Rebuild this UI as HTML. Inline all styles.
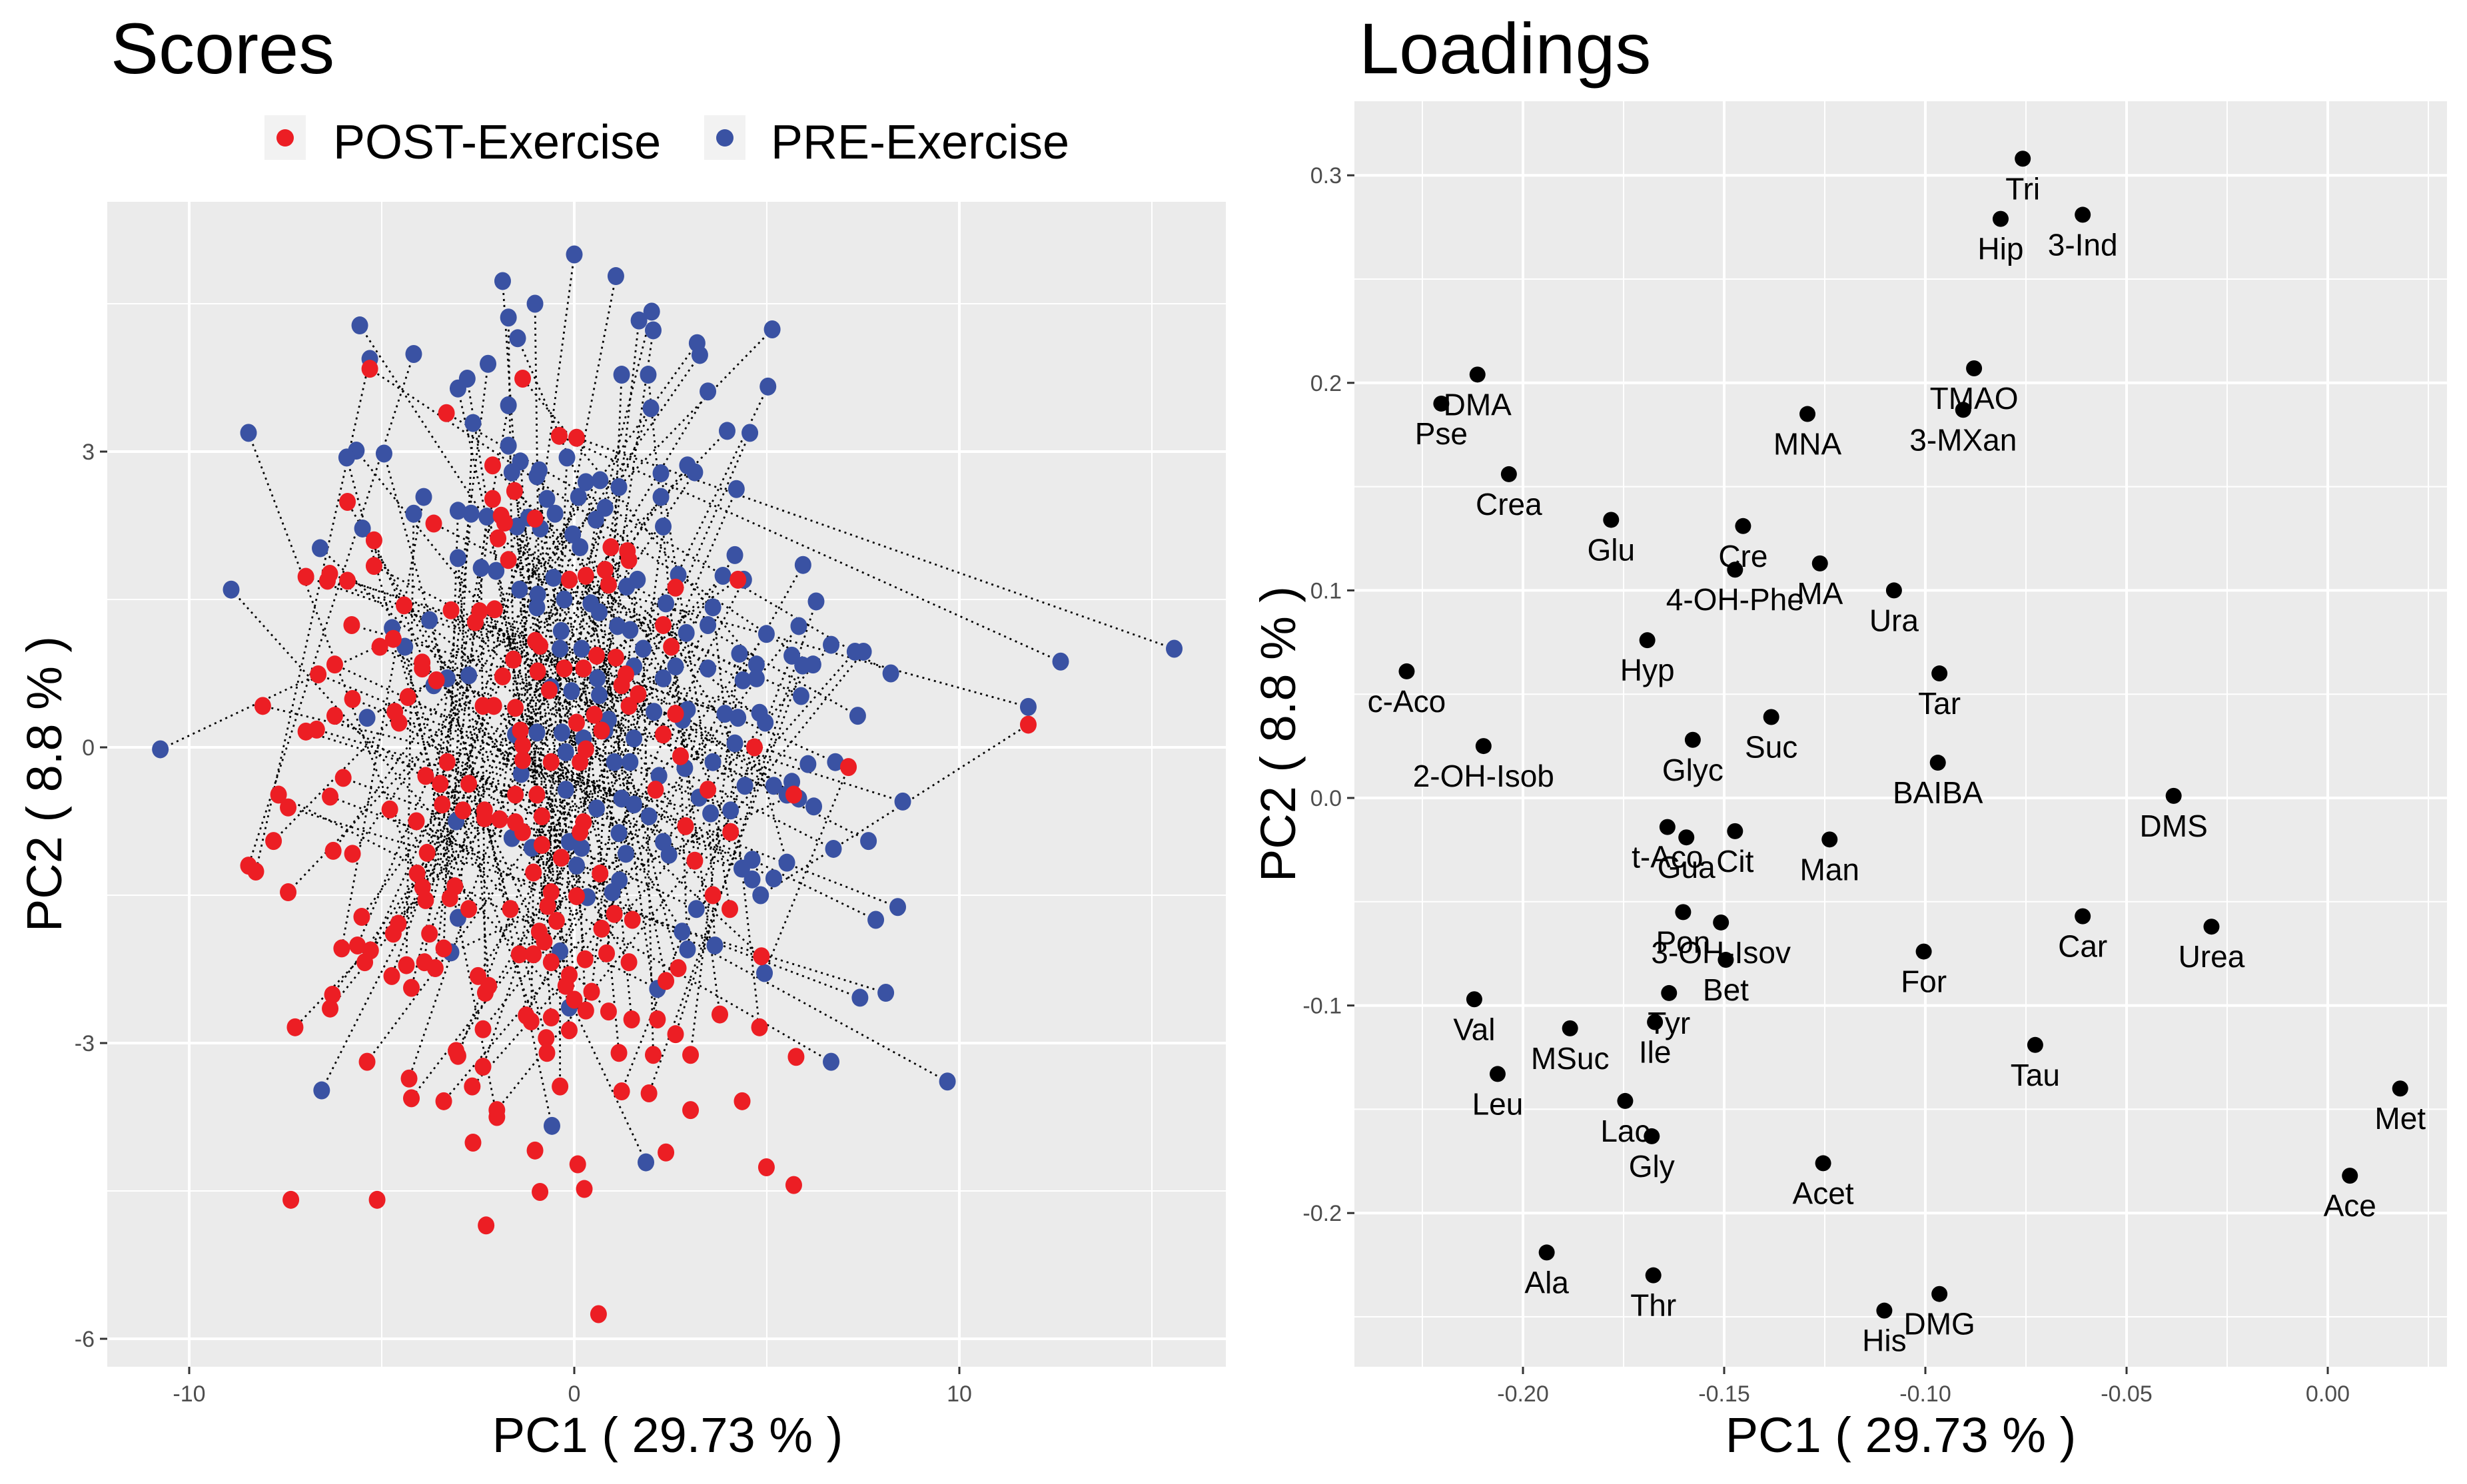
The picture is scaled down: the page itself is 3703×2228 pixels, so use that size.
<!DOCTYPE html>
<html><head><meta charset="utf-8"><style>
html,body{margin:0;padding:0;background:#fff;}
svg{display:block;font-family:"Liberation Sans",Arial,sans-serif;}
</style></head><body>
<svg id="fig" width="3703" height="2228" viewBox="0 0 3703 2228" xmlns="http://www.w3.org/2000/svg">
<rect width="3703" height="2228" fill="#fff"/>
<text x="166" y="110" font-size="108" fill="#000">Scores</text>
<text x="2040" y="110" font-size="108" fill="#000">Loadings</text>
<g>
<g>
<rect x="397" y="173" width="62" height="67" fill="#f2f2f2"/>
<circle cx="428" cy="207" r="13" fill="#ec1e24"/>
<text x="500" y="238" font-size="72">POST-Exercise</text></g>
<g>
<rect x="1057" y="173" width="62" height="67" fill="#f2f2f2"/>
<circle cx="1088" cy="207" r="13" fill="#3a52a3"/>
<text x="1157" y="238" font-size="72">PRE-Exercise</text></g>
</g>
<g id="scores"></g>
<g id="loadings"></g>
<text x="1002" y="2180" font-size="74" text-anchor="middle">PC1 ( 29.73 % )</text>
<text transform="translate(92,1177) rotate(-90)" font-size="74" text-anchor="middle">PC2 ( 8.8 % )</text>
<text x="2853" y="2180" font-size="74" text-anchor="middle">PC1 ( 29.73 % )</text>
<text transform="translate(1944,1102) rotate(-90)" font-size="74" text-anchor="middle">PC2 ( 8.8 % )</text>
</svg>
<script>
// ---------- Scores data ----------
const preX=[0,1.08,-1.86,-1.02,-1.71,2.01,1.68,2.05,-5.57,-1.47,5.14,3.19,3.26,-4.17,-5.31,-2.24,-2.78,-3.02,1.23,1.92,5.03,3.47,-1.71,1.99,-2.63,-8.46,3.97,4.56,-1.71,-5.66,-5.91,-4.94,-0.19,-1.40,-1.62,-0.91,-0.97,2.25,2.94,3.13,0.30,0.67,1.16,4.21,-3.91,-0.71,0.11,2.25,-3.02,-2.68,-2.27,-4.17,-0.50,-1.19,0.80,0.56,-1.49,-0.88,2.31,-5.50,-0.04,0.15,-6.60,4.17,-3.02,-2.42,-2.03,5.94,-0.54,1.64,1.36,2.70,3.86,4.40,-1.42,-0.95,-8.91,-0.26,-0.97,0.43,0.65,2.38,3.60,6.28,5.83,-3.76,-4.73,3.47,1.12,1.45,2.91,-0.34,4.99,6.67,7.29,7.51,-4.40,-0.37,0.19,1.79,4.29,5.65,5.93,6.20,4.73,8.22,12.63,15.58,2.63,3.47,-2.74,-3.30,0.60,1.55,2.31,4.38,4.73,-3.65,-0.07,-0.60,0.65,5.89,2.07,2.94,3.91,4.25,4.81,4.96,7.36,11.79,-5.38,-1.53,-0.97,-0.32,0.24,0.80,0.89,1.55,2.81,4.17,-10.75,1.04,1.45,3.60,2.87,6.07,6.78,-0.22,-1.38,2.20,-0.22,1.23,1.55,4.43,5.18,5.65,5.52,5.83,6.22,3.24,8.53,0.58,1.94,3.54,4.06,-3.07,1.16,-1.62,-0.13,0.19,2.31,2.46,1.34,-1.10,0.06,6.73,7.64,4.35,4.62,5.52,5.18,4.62,4.84,1.17,0.99,0.34,3.17,-3.02,8.40,7.83,2.80,2.94,3.65,-0.37,-3.20,4.94,2.16,8.09,7.42,-0.13,6.67,9.69,-6.56,-0.58,1.86];
const preY=[5.0,4.78,4.73,4.5,4.36,4.42,4.33,4.23,4.28,4.15,4.24,4.10,3.98,3.99,3.94,3.89,3.74,3.64,3.78,3.78,3.66,3.61,3.47,3.44,3.29,3.19,3.21,3.19,3.06,3.01,2.94,2.98,2.94,2.90,2.79,2.81,2.75,2.78,2.86,2.79,2.69,2.71,2.64,2.62,2.54,2.52,2.54,2.54,2.40,2.37,2.34,2.37,2.37,2.33,2.43,2.31,2.24,2.22,2.24,2.22,2.16,2.03,2.02,1.95,1.92,1.82,1.79,1.85,1.72,1.70,1.63,1.75,1.74,1.70,1.60,1.55,1.60,1.50,1.42,1.46,1.37,1.46,1.42,1.48,1.23,1.29,1.21,1.24,1.23,1.19,1.16,1.18,1.15,1.04,0.97,0.97,1.02,1.00,1.00,1.00,0.95,0.93,0.83,0.84,0.84,0.75,0.87,1.00,0.82,0.80,0.73,0.70,0.70,0.82,0.70,0.68,0.70,0.63,0.57,0.61,0.53,0.52,0.36,0.38,0.34,0.30,0.35,0.25,0.32,0.41,0.30,0.13,0.15,0.15,0.09,0.17,0.28,0.09,0.28,0.04,-0.02,-0.15,-0.15,-0.15,-0.21,-0.17,-0.15,-0.05,-0.27,-0.29,-0.43,-0.52,-0.58,-0.39,-0.39,-0.35,-0.48,-0.52,-0.60,-0.51,-0.55,-0.62,-0.70,-0.67,-0.64,-0.75,-0.87,-0.92,-0.96,-1.02,-0.96,-1.09,-1.08,-1.02,-1.20,-1.03,-0.95,-1.23,-1.14,-1.17,-1.33,-1.34,-1.50,-1.35,-1.47,-1.52,-1.64,-1.73,-1.62,-1.75,-1.87,-2.05,-2.01,-2.07,-2.08,-2.29,-2.45,-2.49,-2.54,-2.64,-3.19,-3.39,-3.48,-3.84,-4.21];
const postX=[-5.31,-1.34,-3.32,-0.39,0.06,-2.12,-1.55,-2.12,-5.89,-1.90,-1.81,-1.02,-3.65,-1.98,-5.20,0.95,1.38,1.42,-1.71,-5.20,-6.97,-6.35,-6.41,-5.89,0.30,0.80,-0.13,0.89,4.25,2.63,-4.42,-3.20,-2.46,-2.07,-2.57,-5.78,2.31,-4.70,-5.05,-1.01,-0.89,2.52,-1.58,0.58,1.08,-3.95,-3.95,-3.58,-6.22,-6.65,-0.95,-0.26,0.24,-1.86,1.34,1.23,1.66,-0.65,-4.32,-5.76,-8.09,-2.37,-2.09,-1.53,-6.22,-4.66,-4.55,0.52,0.06,1.42,2.63,-1.40,0.71,2.31,-6.97,-6.69,4.68,-1.34,0.30,11.79,-6.0,-3.30,-3.86,-3.48,-2.74,-1.34,-0.60,0.15,2.76,3.47,2.11,5.70,7.12,-7.68,-7.43,-6.34,-4.79,-4.10,-3.43,-2.89,-2.33,-2.33,-1.94,-1.53,-0.97,-0.84,-1.53,-1.34,0.24,0.15,2.89,4.06,-7.81,-6.26,-5.76,-8.46,-8.27,-3.82,-0.84,-0.34,0.67,3.13,-1.06,-4.08,-3.94,-3.10,-3.23,-3.86,-7.43,-0.60,0.06,3.60,-2.74,-1.66,-0.69,-0.46,1.04,1.51,0.71,4.04,-5.52,-4.57,-4.70,-3.76,-0.91,-0.78,-6.04,-5.63,-5.29,-5.44,-3.39,-3.89,-3.61,-4.36,-4.74,-4.23,-1.43,-1.06,-0.60,0.28,0.84,1.42,2.70,2.38,4.86,-2.50,-2.22,-2.31,-0.13,-0.22,0.00,0.45,-6.28,-6.34,-7.25,-1.25,-0.60,-1.12,0.89,0.30,-0.13,1.49,2.16,3.78,4.81,2.63,-2.37,-0.73,-0.71,-3.07,-3.02,-2.37,-5.38,-4.29,-4.23,-3.39,-2.65,-2.01,-2.01,-0.37,1.16,2.05,3.02,1.23,1.94,4.36,3.02,5.76,-2.63,-1.02,0.09,2.38,4.99,5.70,-7.36,-5.12,-0.89,0.26,-2.29,0.63];
const postY=[3.84,3.74,3.39,3.16,3.14,2.86,2.60,2.52,2.49,2.35,2.28,2.32,2.27,2.12,2.10,2.03,1.99,1.90,1.90,1.84,1.73,1.76,1.69,1.69,1.74,1.80,1.70,1.65,1.70,1.62,1.44,1.39,1.38,1.40,1.27,1.24,1.24,1.10,1.02,1.08,1.03,1.02,0.89,0.93,0.91,0.86,0.80,0.68,0.84,0.74,0.77,0.80,0.80,0.72,0.74,0.63,0.54,0.58,0.51,0.49,0.42,0.42,0.42,0.40,0.32,0.36,0.25,0.33,0.25,0.42,0.34,0.17,0.17,0.13,0.16,0.18,0.00,0.02,-0.02,0.23,-0.31,-0.15,-0.29,-0.37,-0.37,-0.13,-0.15,-0.15,-0.09,-0.43,-0.43,-0.48,-0.20,-0.48,-0.61,-0.50,-0.63,-0.75,-0.58,-0.64,-0.64,-0.72,-0.73,-0.48,-0.48,-0.70,-0.76,-0.86,-0.76,-0.86,-0.80,-0.86,-0.95,-1.05,-1.08,-1.20,-1.26,-1.07,-0.99,-1.12,-1.28,-1.15,-1.27,-1.28,-1.42,-1.41,-1.53,-1.55,-1.47,-1.47,-1.51,-1.50,-1.64,-1.64,-1.61,-1.76,-1.69,-1.75,-1.84,-1.64,-1.72,-1.79,-1.89,-1.89,-1.87,-1.97,-2.04,-2.01,-2.06,-2.18,-2.04,-2.18,-2.24,-2.21,-2.32,-2.44,-2.10,-2.10,-2.18,-2.15,-2.09,-2.18,-2.24,-2.37,-2.12,-2.32,-2.42,-2.49,-2.31,-2.42,-2.56,-2.48,-2.51,-2.65,-2.84,-2.72,-2.74,-2.78,-2.68,-2.67,-2.87,-2.76,-2.76,-2.71,-2.84,-2.91,-2.86,-2.95,-3.10,-3.08,-3.13,-3.24,-3.19,-3.36,-3.56,-3.59,-3.44,-3.68,-3.75,-3.44,-3.10,-3.12,-3.12,-3.49,-3.51,-3.59,-3.68,-3.14,-4.01,-4.09,-4.23,-4.11,-4.26,-4.44,-4.59,-4.59,-4.51,-4.48,-4.85,-5.75];
const scoreXTicks=[-10,0,10];
const scoreYTicks=[-6,-3,0,3];

// ---------- Loadings data ----------
const loadNames=["Tri","Hip","3-Ind","DMA","Pse","TMAO","3-MXan","MNA","Crea","Glu","Cre","4-OH-Phe","MA","Ura","Hyp","c-Aco","Tar","Suc","Glyc","2-OH-Isob","BAIBA","DMS","t-Aco","Gua","Cit","Man","Car","Urea","Pon","3-OH-Isov","Bet","For","Val","MSuc","Tyr","Ile","Tau","Leu","Met","Lac","Gly","Acet","Ace","Ala","Thr","DMG","His"];
const loadX=[-0.0758,-0.0813,-0.0609,-0.2113,-0.2203,-0.0879,-0.0906,-0.1293,-0.2035,-0.1781,-0.1453,-0.1473,-0.1262,-0.1078,-0.1691,-0.2289,-0.0965,-0.1383,-0.1578,-0.2098,-0.0969,-0.0383,-0.1641,-0.1594,-0.1473,-0.1238,-0.0609,-0.0289,-0.1602,-0.1508,-0.1496,-0.1004,-0.2121,-0.1883,-0.1637,-0.1672,-0.0727,-0.2063,0.0180,-0.1746,-0.1680,-0.1254,0.0055,-0.1941,-0.1676,-0.0965,-0.1102];
const loadY=[0.308,0.279,0.281,0.204,0.190,0.207,0.187,0.185,0.156,0.134,0.131,0.110,0.113,0.100,0.076,0.061,0.060,0.039,0.028,0.025,0.017,0.001,-0.014,-0.019,-0.016,-0.020,-0.057,-0.062,-0.055,-0.060,-0.078,-0.074,-0.097,-0.111,-0.094,-0.108,-0.119,-0.133,-0.140,-0.146,-0.163,-0.176,-0.182,-0.219,-0.230,-0.239,-0.247];
const loadXTicks=[-0.20,-0.15,-0.10,-0.05,0.00];
const loadXTickLabels=["-0.20","-0.15","-0.10","-0.05","0.00"];
const loadYTicks=[-0.2,-0.1,0.0,0.1,0.2,0.3];
const loadYTickLabels=["-0.2","-0.1","0.0","0.1","0.2","0.3"];

const NS="http://www.w3.org/2000/svg";
function mk(parent,tag,attrs){const e=document.createElementNS(NS,tag);for(const k in attrs)e.setAttribute(k,attrs[k]);parent.appendChild(e);return e;}

function panel(g,L,T,R,B,sx,sy,xMajor,xMinor,yMajor,yMinor,xLab,yLab,name){
  const bg=mk(g,'rect',{x:L,y:T,width:R-L,height:B-T,fill:'#ebebeb'});
  
  
  xMinor.forEach(v=>{const x=sx(v);if(x>L&&x<R){const l=mk(g,'line',{x1:x,x2:x,y1:T,y2:B,stroke:'#fff','stroke-width':2});}});
  yMinor.forEach(v=>{const y=sy(v);if(y>T&&y<B){const l=mk(g,'line',{x1:L,x2:R,y1:y,y2:y,stroke:'#fff','stroke-width':2});}});
  xMajor.forEach((v,i)=>{const x=sx(v);
    const l=mk(g,'line',{x1:x,x2:x,y1:T,y2:B,stroke:'#fff','stroke-width':4});
    const t=mk(g,'line',{x1:x,x2:x,y1:B,y2:B+11,stroke:'#333','stroke-width':3});
    const tx=mk(g,'text',{x:x,y:B+52,'font-size':34,fill:'#4d4d4d','text-anchor':'middle'});tx.textContent=xLab[i];});
  yMajor.forEach((v,i)=>{const y=sy(v);
    const l=mk(g,'line',{x1:L,x2:R,y1:y,y2:y,stroke:'#fff','stroke-width':4});
    const t=mk(g,'line',{x1:L-11,x2:L,y1:y,y2:y,stroke:'#333','stroke-width':3});
    const tx=mk(g,'text',{x:L-19,y:y+12,'font-size':34,fill:'#4d4d4d','text-anchor':'end'});tx.textContent=yLab[i];});
}

// Scores panel
(function(){
  const g=document.getElementById('scores');
  const L=161,T=303,R=1840,B=2052;
  const sx=v=>862+v*57.8, sy=v=>1122-v*148;
  panel(g,L,T,R,B,sx,sy,scoreXTicks,[-15,-5,5,15],scoreYTicks,[-4.5,-1.5,1.5,4.5],scoreXTicks.map(String),scoreYTicks.map(String),'scores');
  const n=Math.min(preX.length,postX.length);
  const half=Math.floor(n/2);
  for(let i=0;i<n;i++){
    const j=(i+half)%n;
    const l=mk(g,'line',{x1:sx(preX[i]),y1:sy(preY[i]),x2:sx(postX[j]),y2:sy(postY[j]),stroke:'#000','stroke-width':2.8,'stroke-dasharray':'3 6'});
    
    
  }
  for(let i=0;i<preX.length;i++){
    const c=mk(g,'ellipse',{cx:sx(preX[i]),cy:sy(preY[i]),rx:12.5,ry:13.5,fill:'#3a52a3'});
    
    
  }
  for(let i=0;i<postX.length;i++){
    const c=mk(g,'ellipse',{cx:sx(postX[i]),cy:sy(postY[i]),rx:12.5,ry:13.5,fill:'#ec1e24'});
    
    
  }
})();

// Loadings panel
(function(){
  const g=document.getElementById('loadings');
  const L=2033,T=152,R=3673,B=2052;
  const sx=v=>3494+v*6040, sy=v=>1198-v*3116;
  panel(g,L,T,R,B,sx,sy,loadXTicks,[-0.225,-0.175,-0.125,-0.075,-0.025,0.025],loadYTicks,[-0.25,-0.15,-0.05,0.05,0.15,0.25],loadXTickLabels,loadYTickLabels,'loadings');
  for(let i=0;i<loadNames.length;i++){
    const c=mk(g,'circle',{cx:sx(loadX[i]),cy:sy(loadY[i]),r:12,fill:'#000'});
    
    
    const t=mk(g,'text',{x:sx(loadX[i]),y:sy(loadY[i])+61,'font-size':46,fill:'#000','text-anchor':'middle'});
    t.textContent=loadNames[i];
    
    
  }
})();
</script>
</body></html>
